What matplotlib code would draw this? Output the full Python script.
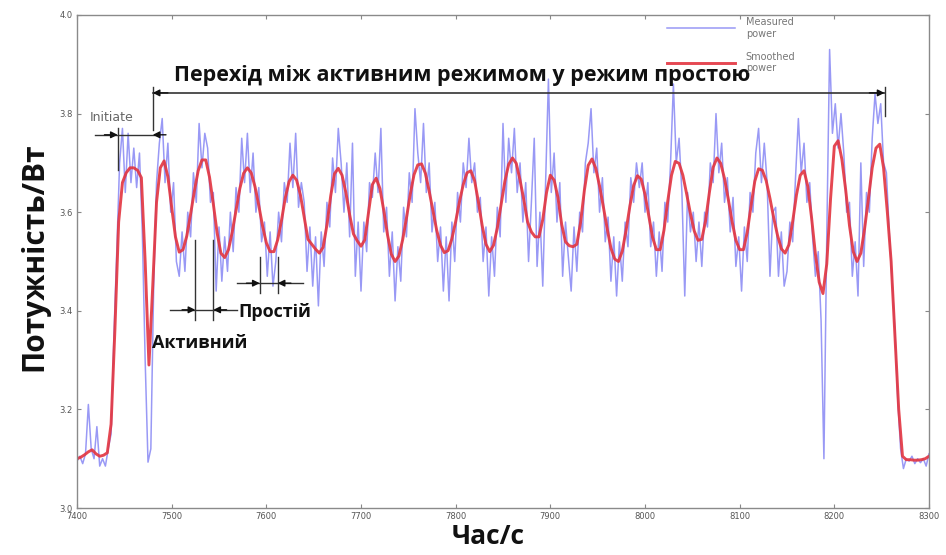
import numpy as np
import matplotlib
matplotlib.use("Agg")
import matplotlib.pyplot as plt
from matplotlib.ticker import FormatStrFormatter

# ---- data -------------------------------------------------------------
t_start = 7400            # s
meas_step = 3             # s between measured samples
smooth_step = 4           # s between smoothed samples

measured_power = [
    3.095, 3.105, 3.09, 3.11, 3.21, 3.12, 3.10, 3.165, 3.085, 3.10,
    3.085, 3.12, 3.15, 3.35, 3.52, 3.70, 3.77, 3.64, 3.76, 3.66,
    3.73, 3.65, 3.72, 3.56, 3.30, 3.093, 3.12, 3.45, 3.66, 3.74,
    3.79, 3.66, 3.74, 3.60, 3.66, 3.50, 3.47, 3.56, 3.48, 3.60,
    3.55, 3.68, 3.62, 3.78, 3.69, 3.76, 3.73, 3.62, 3.64, 3.44,
    3.57, 3.46, 3.55, 3.48, 3.60, 3.52, 3.65, 3.60, 3.75, 3.66,
    3.76, 3.64, 3.72, 3.60, 3.65, 3.54, 3.58, 3.47, 3.56, 3.45,
    3.50, 3.60, 3.54, 3.66, 3.62, 3.74, 3.65, 3.76, 3.61, 3.66,
    3.62, 3.48, 3.57, 3.45, 3.55, 3.41, 3.56, 3.49, 3.62, 3.57,
    3.71, 3.64, 3.77, 3.70, 3.60, 3.70, 3.55, 3.74, 3.47, 3.58,
    3.44, 3.58, 3.52, 3.66, 3.63, 3.72, 3.64, 3.77, 3.56, 3.61,
    3.47, 3.56, 3.42, 3.53, 3.46, 3.61, 3.55, 3.68, 3.62, 3.81,
    3.72, 3.66, 3.78, 3.64, 3.70, 3.56, 3.62, 3.50, 3.57, 3.44,
    3.55, 3.42, 3.58, 3.50, 3.64, 3.58, 3.70, 3.65, 3.75, 3.66,
    3.70, 3.60, 3.63, 3.50, 3.57, 3.43, 3.55, 3.47, 3.61, 3.55,
    3.78, 3.62, 3.75, 3.68, 3.77, 3.64, 3.70, 3.58, 3.66, 3.50,
    3.62, 3.75, 3.49, 3.60, 3.45, 3.66, 3.87, 3.64, 3.72, 3.58,
    3.66, 3.47, 3.58, 3.51, 3.44, 3.57, 3.48, 3.60, 3.56, 3.70,
    3.74, 3.81, 3.68, 3.73, 3.60, 3.67, 3.54, 3.59, 3.46, 3.55,
    3.43, 3.54, 3.46, 3.58, 3.53, 3.67, 3.62, 3.70, 3.65, 3.70,
    3.60, 3.66, 3.53, 3.58, 3.47, 3.56, 3.48, 3.62, 3.58, 3.70,
    3.86, 3.70, 3.75, 3.64, 3.43, 3.64, 3.56, 3.60, 3.50, 3.58,
    3.49, 3.60, 3.57, 3.70, 3.66, 3.80, 3.68, 3.74, 3.62, 3.67,
    3.56, 3.63, 3.49, 3.55, 3.44, 3.57, 3.50, 3.64, 3.60, 3.72,
    3.77, 3.66, 3.74, 3.66, 3.47, 3.60, 3.61, 3.47, 3.56, 3.45,
    3.48, 3.58, 3.54, 3.67, 3.79, 3.68, 3.74, 3.62, 3.66, 3.55,
    3.47, 3.52, 3.38, 3.10, 3.55, 3.93, 3.76, 3.82, 3.73, 3.80,
    3.72, 3.60, 3.62, 3.47, 3.54, 3.43, 3.70, 3.49, 3.64, 3.60,
    3.75, 3.84, 3.78, 3.82, 3.70, 3.68, 3.56, 3.46, 3.36, 3.22,
    3.12, 3.08, 3.10, 3.095, 3.105, 3.09, 3.10, 3.092, 3.10, 3.085, 3.11,
]

smoothed_power = [
    3.100, 3.103, 3.108, 3.114, 3.118, 3.110, 3.105, 3.107, 3.112, 3.17,
    3.36, 3.58, 3.66, 3.68, 3.69, 3.69, 3.685, 3.67, 3.50, 3.29,
    3.45, 3.62, 3.69, 3.704, 3.672, 3.61, 3.55, 3.519, 3.524, 3.552,
    3.596, 3.643, 3.684, 3.706, 3.706, 3.671, 3.617, 3.558, 3.517, 3.508,
    3.524, 3.56, 3.604, 3.648, 3.679, 3.69, 3.68, 3.652, 3.614, 3.572,
    3.538, 3.52, 3.52, 3.544, 3.583, 3.629, 3.662, 3.675, 3.665, 3.635,
    3.59, 3.545, 3.535, 3.525, 3.517, 3.529, 3.574, 3.633, 3.678, 3.689,
    3.675, 3.64, 3.595, 3.556, 3.542, 3.531, 3.544, 3.60, 3.656, 3.669,
    3.648, 3.604, 3.554, 3.515, 3.50, 3.511, 3.544, 3.588, 3.636, 3.676,
    3.696, 3.698, 3.679, 3.643, 3.603, 3.563, 3.533, 3.518, 3.522, 3.546,
    3.581, 3.621, 3.656, 3.68, 3.684, 3.664, 3.621, 3.573, 3.535, 3.52,
    3.533, 3.568, 3.615, 3.663, 3.697, 3.71, 3.699, 3.665, 3.625, 3.58,
    3.56, 3.55, 3.55, 3.585, 3.64, 3.675, 3.665, 3.63, 3.575, 3.54,
    3.532, 3.53, 3.535, 3.58, 3.645, 3.695, 3.708, 3.689, 3.653, 3.611,
    3.567, 3.527, 3.505, 3.50, 3.521, 3.563, 3.612, 3.654, 3.674, 3.667,
    3.636, 3.593, 3.549, 3.524, 3.524, 3.563, 3.622, 3.675, 3.703, 3.699,
    3.675, 3.637, 3.597, 3.562, 3.543, 3.545, 3.583, 3.64, 3.691, 3.71,
    3.699, 3.668, 3.626, 3.581, 3.543, 3.524, 3.524, 3.559, 3.613, 3.663,
    3.688, 3.685, 3.664, 3.628, 3.588, 3.553, 3.526, 3.517, 3.534, 3.581,
    3.635, 3.675, 3.684, 3.652, 3.588, 3.515, 3.458, 3.435, 3.495, 3.627,
    3.734, 3.745, 3.707, 3.645, 3.573, 3.52, 3.50, 3.517, 3.567, 3.627,
    3.69, 3.73, 3.738, 3.69, 3.60, 3.50, 3.35, 3.20, 3.105, 3.098,
    3.098, 3.097, 3.097, 3.098, 3.100, 3.105,
]

x_ticks = [7400, 7500, 7600, 7700, 7800, 7900, 8000, 8100, 8200, 8300]
y_ticks = [3.0, 3.2, 3.4, 3.6, 3.8, 4.0]

meas_t = t_start + meas_step * np.arange(len(measured_power))
smooth_t = t_start + smooth_step * np.arange(len(smoothed_power))

# ---- figure -----------------------------------------------------------
W, H = 946, 555
fig = plt.figure(figsize=(W / 100, H / 100), dpi=100)
ax = fig.add_axes([77 / W, 1 - 508 / H, (929 - 77) / W, (508 - 15) / H])

ax.plot(meas_t, measured_power, color="#4646ee", lw=1.1, alpha=0.55,
        label="Measured\npower")
ax.plot(smooth_t, smoothed_power, color="#e3343f", lw=2.1, alpha=0.9,
        label="Smoothed\npower")

ax.set_xlim(x_ticks[0], x_ticks[-1])
ax.set_ylim(y_ticks[0], y_ticks[-1])
ax.set_xticks(x_ticks)
ax.set_yticks(y_ticks)
ax.yaxis.set_major_formatter(FormatStrFormatter("%.1f"))
ax.tick_params(direction="in", top=True, right=True, length=3,
               color="#888888", labelsize=6, labelcolor="#555555", pad=3)
for sp in ax.spines.values():
    sp.set_color("#8a8a8a")
    sp.set_linewidth(1.0)

bold_font = ["Open Sans", "DejaVu Sans"]
ax.set_xlabel("Час/с", fontsize=19, fontweight="bold", family=bold_font,
              color="#111111")
ax.xaxis.set_label_coords((488 - 77) / 852, -0.03)
ax.set_ylabel("Потужність/Вт", fontsize=21.5, fontweight="bold",
              family=bold_font, color="#111111")
ax.yaxis.set_label_coords(-0.033, 0.51)

leg = ax.legend(loc="upper left", bbox_to_anchor=(667 / W, 1 - 17 / H),
                bbox_transform=fig.transFigure, frameon=False, fontsize=7,
                handlelength=7.0, handletextpad=1.1, labelspacing=1.35,
                borderpad=0, borderaxespad=0)
for txt in leg.get_texts():
    txt.set_color("#777777")

# ---- annotations ------------------------------------------------------
ann_col = "#333333"
arrow_kw = dict(arrowstyle="-|>", color="#111111", lw=1.0, mutation_scale=10,
                shrinkA=0, shrinkB=0)


def dimension(x_lo, x_hi, y, left_end, right_end):
    """Horizontal line with two arrowheads pointing in at x_lo / x_hi."""
    ax.plot([left_end, right_end], [y, y], color=ann_col, lw=1.0)
    ax.annotate("", xy=(x_lo, y), xytext=(x_lo - 14, y), arrowprops=arrow_kw)
    ax.annotate("", xy=(x_hi, y), xytext=(x_hi + 14, y), arrowprops=arrow_kw)


# transition between active and idle
ax.plot([7480, 8253], [3.842, 3.842], color=ann_col, lw=1.2)
ax.plot([7480, 7480], [3.766, 3.853], color=ann_col, lw=1.0)
ax.plot([8253, 8253], [3.795, 3.853], color=ann_col, lw=1.0)
ax.annotate("", xy=(7480, 3.842), xytext=(7496, 3.842), arrowprops=arrow_kw)
ax.annotate("", xy=(8253, 3.842), xytext=(8237, 3.842), arrowprops=arrow_kw)
ax.text(7807, 3.878, "Перехід між активним режимом у режим простою",
        fontsize=15.5, fontweight="bold", family=bold_font, color="#111111",
        ha="center", va="center")

# initiate
ax.plot([7443, 7443], [3.686, 3.771], color=ann_col, lw=1.0)
dimension(7443, 7480, 3.757, 7419, 7486)
ax.text(7437, 3.792, "Initiate", fontsize=9, color="#666666",
        ha="center", va="center")

# idle intervals
ax.plot([7525, 7525], [3.381, 3.544], color=ann_col, lw=1.0)
ax.plot([7544, 7544], [3.381, 3.544], color=ann_col, lw=1.0)
dimension(7525, 7544, 3.402, 7498, 7569)
ax.plot([7593, 7593], [3.436, 3.509], color=ann_col, lw=1.0)
ax.plot([7612, 7612], [3.436, 3.509], color=ann_col, lw=1.0)
dimension(7593, 7612, 3.456, 7569, 7639)
ax.text(7570, 3.398, "Простій", fontsize=13, fontweight="bold",
        family=bold_font, color="#111111", ha="left", va="center")
ax.text(7479, 3.335, "Активний", fontsize=13, fontweight="bold",
        family=bold_font, color="#111111", ha="left", va="center")

fig.savefig("out.png", dpi=100, facecolor="white")
